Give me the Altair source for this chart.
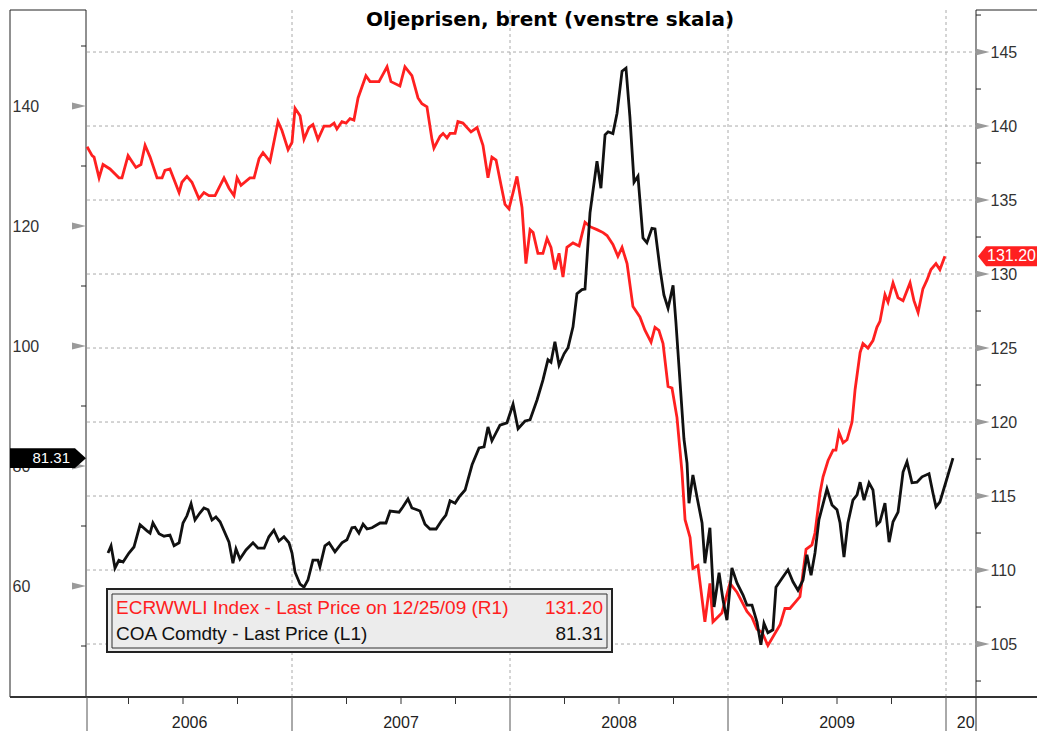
import altair as alt
import pandas as pd

TITLE = "Oljeprisen, brent (venstre skala)"

# ECRWWLI Index (right scale), decimal years
ecri_t = [
    2006.060, 2006.083, 2006.092, 2006.115, 2006.133, 2006.165, 2006.206, 2006.220, 2006.248, 2006.284,
    2006.307, 2006.326, 2006.349, 2006.381, 2006.404, 2006.417, 2006.440, 2006.482, 2006.495, 2006.518,
    2006.541, 2006.573, 2006.596, 2006.619, 2006.647, 2006.688, 2006.711, 2006.734, 2006.748, 2006.766,
    2006.807, 2006.826, 2006.849, 2006.867, 2006.899, 2006.936, 2006.954, 2006.982, 2007.000, 2007.014,
    2007.037, 2007.055, 2007.078, 2007.096, 2007.119, 2007.147, 2007.174, 2007.193, 2007.206, 2007.229,
    2007.248, 2007.266, 2007.284, 2007.303, 2007.339, 2007.358, 2007.399, 2007.436, 2007.454, 2007.495,
    2007.518, 2007.550, 2007.578, 2007.596, 2007.619, 2007.642, 2007.651, 2007.679, 2007.693, 2007.711,
    2007.725, 2007.748, 2007.761, 2007.784, 2007.821, 2007.849, 2007.876, 2007.899, 2007.917, 2007.936,
    2007.959, 2007.977, 2007.995, 2008.014, 2008.032, 2008.055, 2008.073, 2008.092, 2008.106, 2008.128,
    2008.151, 2008.170, 2008.188, 2008.206, 2008.225, 2008.243, 2008.261, 2008.289, 2008.317, 2008.344,
    2008.367, 2008.399, 2008.427, 2008.445, 2008.472, 2008.495, 2008.514, 2008.537, 2008.564, 2008.596,
    2008.619, 2008.647, 2008.665, 2008.683, 2008.702, 2008.725, 2008.743, 2008.766, 2008.789, 2008.803,
    2008.826, 2008.839, 2008.862, 2008.894, 2008.917, 2008.931, 2008.972, 2009.009, 2009.041, 2009.087,
    2009.110, 2009.133, 2009.156, 2009.183, 2009.239, 2009.261, 2009.284, 2009.307, 2009.330, 2009.358,
    2009.385, 2009.399, 2009.422, 2009.436, 2009.459, 2009.482, 2009.495, 2009.509, 2009.528, 2009.546,
    2009.569, 2009.583, 2009.606, 2009.619, 2009.642, 2009.665, 2009.683, 2009.697, 2009.720, 2009.734,
    2009.757, 2009.780, 2009.803, 2009.835, 2009.853, 2009.872, 2009.894, 2009.913, 2009.931, 2009.954,
    2009.972, 2009.995,
]
ecri_v = [
    138.6, 138.0, 137.9, 136.5, 137.4, 137.1, 136.5, 136.5, 138.0, 137.2,
    137.4, 138.7, 137.9, 136.5, 136.5, 137.0, 137.1, 135.5, 136.2, 136.6,
    136.2, 135.1, 135.5, 135.3, 135.3, 136.5, 135.8, 135.3, 136.5, 136.0,
    136.5, 136.5, 137.8, 138.2, 137.6, 140.3, 139.7, 138.4, 138.9, 141.2,
    140.7, 139.1, 139.9, 140.1, 139.1, 140.0, 140.0, 140.2, 139.8, 140.3,
    140.2, 140.5, 140.4, 141.9, 143.4, 143.0, 143.0, 144.0, 143.0, 142.7,
    144.0, 143.4, 141.9, 141.5, 141.3, 139.1, 138.5, 139.3, 139.5, 139.2,
    139.5, 139.5, 140.3, 140.2, 139.6, 139.9, 138.7, 136.5, 137.9, 137.7,
    136.0, 134.7, 134.4, 135.5, 136.6, 134.5, 130.7, 133.0, 132.8, 131.4,
    131.4, 132.4, 131.8, 130.3, 131.4, 129.8, 131.8, 132.1, 131.9, 133.5,
    133.2, 133.0, 132.8, 132.6, 132.0, 131.2, 131.8, 130.7, 127.8, 127.1,
    126.2, 125.4, 126.4, 126.2, 125.3, 122.4, 122.3, 120.3, 116.6, 113.4,
    112.2, 110.1, 110.3, 106.5, 109.1, 106.5, 107.1, 109.1, 108.5, 107.2,
    106.8, 106.0, 105.8, 104.9, 106.3, 107.4, 107.4, 107.8, 108.2, 111.4,
    111.7, 112.5, 115.2, 116.3, 117.4, 118.1, 118.1, 119.3, 118.6, 118.8,
    120.0, 122.2, 124.7, 125.3, 125.0, 125.5, 126.4, 126.8, 128.6, 128.1,
    129.4, 128.4, 128.2, 129.4, 128.2, 127.4, 129.0, 129.6, 130.3, 130.7,
    130.3, 131.20,
]

# COA Comdty (Brent, left scale), decimal years
coa_t = [
    2006.156, 2006.170, 2006.188, 2006.206, 2006.225, 2006.252, 2006.275, 2006.303, 2006.335, 2006.349,
    2006.362, 2006.390, 2006.413, 2006.440, 2006.459, 2006.482, 2006.500, 2006.518, 2006.537, 2006.555,
    2006.578, 2006.596, 2006.615, 2006.633, 2006.651, 2006.670, 2006.711, 2006.729, 2006.743, 2006.761,
    2006.789, 2006.821, 2006.844, 2006.872, 2006.894, 2006.917, 2006.940, 2006.963, 2006.986, 2007.000,
    2007.014, 2007.037, 2007.055, 2007.073, 2007.096, 2007.119, 2007.128, 2007.151, 2007.170, 2007.197,
    2007.229, 2007.252, 2007.275, 2007.289, 2007.307, 2007.326, 2007.344, 2007.367, 2007.404, 2007.431,
    2007.450, 2007.491, 2007.509, 2007.532, 2007.550, 2007.573, 2007.587, 2007.610, 2007.633, 2007.661,
    2007.688, 2007.706, 2007.725, 2007.748, 2007.766, 2007.794, 2007.826, 2007.858, 2007.881, 2007.899,
    2007.917, 2007.954, 2007.986, 2008.014, 2008.037, 2008.069, 2008.092, 2008.124, 2008.151, 2008.174,
    2008.188, 2008.206, 2008.225, 2008.248, 2008.266, 2008.289, 2008.307, 2008.330, 2008.344, 2008.367,
    2008.399, 2008.417, 2008.436, 2008.450, 2008.472, 2008.491, 2008.514, 2008.532, 2008.550, 2008.569,
    2008.587, 2008.610, 2008.628, 2008.651, 2008.665, 2008.688, 2008.706, 2008.725, 2008.748, 2008.761,
    2008.780, 2008.798, 2008.812, 2008.821, 2008.839, 2008.858, 2008.881, 2008.894, 2008.917, 2008.936,
    2008.959, 2008.977, 2008.995, 2009.018, 2009.041, 2009.069, 2009.087, 2009.110, 2009.133, 2009.151,
    2009.165, 2009.183, 2009.206, 2009.220, 2009.248, 2009.275, 2009.298, 2009.321, 2009.344, 2009.362,
    2009.381, 2009.399, 2009.417, 2009.454, 2009.477, 2009.500, 2009.514, 2009.532, 2009.550, 2009.573,
    2009.592, 2009.606, 2009.624, 2009.647, 2009.665, 2009.683, 2009.697, 2009.720, 2009.739, 2009.757,
    2009.780, 2009.803, 2009.821, 2009.844, 2009.867, 2009.890, 2009.922, 2009.940, 2009.954, 2009.972,
    2010.005, 2010.032,
]
coa_v = [
    65.5, 66.7, 63.0, 64.3, 64.0, 65.5, 66.5, 70.2, 69.2, 68.8,
    70.5, 68.7, 68.3, 68.5, 66.7, 67.2, 70.5, 71.7, 73.7, 71.0,
    72.2, 73.0, 72.7, 71.0, 71.5, 70.7, 67.3, 63.8, 66.2, 64.5,
    66.0, 67.2, 66.3, 66.3, 68.2, 69.3, 67.5, 68.2, 67.2, 65.5,
    62.3, 60.3, 59.8, 61.0, 64.3, 64.3, 63.2, 66.7, 67.2, 65.7,
    67.2, 67.7, 69.7, 69.8, 68.8, 70.3, 69.5, 69.7, 70.5, 70.5,
    72.5, 72.3, 73.2, 74.5, 73.0, 72.7, 72.5, 70.3, 69.5, 69.5,
    71.0, 71.8, 74.2, 73.8, 74.8, 76.0, 80.2, 83.0, 83.2, 86.5,
    84.2, 86.8, 87.2, 90.3, 86.2, 87.5, 87.7, 91.0, 94.3, 97.7,
    97.3, 100.7, 96.8, 98.7, 99.7, 103.2, 108.7, 109.4, 109.5, 122.2,
    130.8, 126.3, 135.2, 135.7, 135.4, 138.8, 145.8, 146.3, 138.2, 127.3,
    128.3, 118.0, 117.2, 119.6, 119.5, 112.9, 108.5, 106.3, 110.1, 104.0,
    94.0, 84.5, 80.5, 73.8, 78.5, 74.8, 70.5, 63.8, 69.7, 56.5,
    62.2, 57.7, 54.3, 63.0, 60.5, 58.5, 56.8, 56.8, 54.0, 50.2,
    53.8, 52.2, 52.7, 59.8, 61.3, 62.7, 60.7, 59.3, 61.0, 65.2,
    61.8, 65.5, 71.0, 76.2, 73.5, 72.7, 70.5, 64.8, 70.5, 74.3,
    75.2, 77.3, 74.3, 77.2, 76.0, 70.2, 70.7, 73.8, 67.3, 70.7,
    72.3, 79.0, 80.7, 77.2, 77.3, 78.2, 78.7, 75.5, 73.2, 74.0,
    78.0, 81.31,
]

left_major = [60, 80, 100, 120, 140]
left_minor = [50, 70, 90, 110, 130, 150]
right_major = [105, 110, 115, 120, 125, 130, 135, 140, 145]
right_minor = [102.5, 107.5, 112.5, 117.5, 122.5, 127.5, 132.5, 137.5, 142.5, 147.5]
year_bounds = [2007, 2008, 2009, 2010]
quarters = [2006.25, 2006.5, 2006.75, 2007.25, 2007.5, 2007.75,
            2008.25, 2008.5, 2008.75, 2009.25, 2009.5, 2009.75]
year_text = ["2006", "2007", "2008", "2009", "20"]
year_pos = [2006.53, 2007.5, 2008.5, 2009.5, 2010.09]
legend_names = ["ECRWWLI Index - Last Price on 12/25/09 (R1)", "COA Comdty - Last Price (L1)"]
legend_values = ["131.20", "81.31"]

RED = "#ff2020"
BLK = "#111111"
FONT = "Liberation Sans"
W, H = 890, 687

xs = alt.Scale(domain=[2006.0596, 2010.1422], nice=False, zero=False)
ls = alt.Scale(domain=[41.5, 156.0], nice=False, zero=False)
rs = alt.Scale(domain=[101.42, 147.84], nice=False, zero=False)

ecri = pd.DataFrame({"t": ecri_t, "v": ecri_v})
coa = pd.DataFrame({"t": coa_t, "v": coa_v})
one = pd.DataFrame({"k": [0]})

X = alt.X("t:Q", scale=xs, axis=None)
YL = alt.Y("v:Q", scale=ls, axis=None)
YR = alt.Y("v:Q", scale=rs, axis=None)

TRI = "M-1,-0.5L1,0L-1,0.5Z"
LTAG = "M-1,-0.26L0.71,-0.26L1,0L0.71,0.26L-1,0.26Z"
RTAG = "M-1,0L-0.8,-0.25L1,-0.25L1,0.25L-0.8,0.25Z"

layers = []

# panels
layers.append(alt.Chart(one).mark_rect(fillOpacity=0, stroke="#222", strokeWidth=1).encode(
    x=alt.value(-77), x2=alt.value(-1), y=alt.value(0), y2=alt.value(H)))
layers.append(alt.Chart(one).mark_rect(fillOpacity=0, stroke="#222", strokeWidth=1).encode(
    x=alt.value(889), x2=alt.value(990), y=alt.value(0), y2=alt.value(H)))

# grid
layers.append(alt.Chart(pd.DataFrame({"v": right_major})).mark_rule(
    color="#aaaaaa", strokeDash=[3, 3], strokeWidth=1).encode(
    y=YR, x=alt.value(0), x2=alt.value(889)))
layers.append(alt.Chart(pd.DataFrame({"t": year_bounds})).mark_rule(
    color="#aaaaaa", strokeDash=[3, 3], strokeWidth=1).encode(
    x=X, y=alt.value(0), y2=alt.value(H)))

# series
layers.append(alt.Chart(ecri).mark_line(color=RED, strokeWidth=2.8).encode(
    x=X,
    y=alt.Y("v:Q", scale=rs, axis=alt.Axis(
        orient="right", values=right_major, ticks=False, tickSize=0, domain=False, grid=False,
        labelAlign="left", labelBaseline="middle", labelPadding=13, labelFont=FONT,
        labelFontSize=16, labelColor="#333", labelOverlap=False, title=None))))
layers.append(alt.Chart(coa).mark_line(color=BLK, strokeWidth=2.8).encode(
    x=X,
    y=alt.Y("v:Q", scale=ls, axis=alt.Axis(
        orient="left", values=left_major, ticks=False, tickSize=0, domain=False, grid=False,
        labelAlign="left", labelBaseline="middle", labelPadding=75, labelFont=FONT,
        labelFontSize=16, labelColor="#333", labelOverlap=False, title=None))))

# axis ticks
layers.append(alt.Chart(pd.DataFrame({"v": left_major})).mark_point(
    shape=TRI, size=196, filled=True, color="#9a9a9a", opacity=1, strokeWidth=0).encode(
    y=YL, x=alt.value(-8)))
layers.append(alt.Chart(pd.DataFrame({"v": left_minor})).mark_rule(color="#222", strokeWidth=1).encode(
    y=YL, x=alt.value(-6), x2=alt.value(-1)))
layers.append(alt.Chart(pd.DataFrame({"v": right_major})).mark_point(
    shape=TRI, size=169, filled=True, color="#9a9a9a", opacity=1, strokeWidth=0).encode(
    y=YR, x=alt.value(896)))
layers.append(alt.Chart(pd.DataFrame({"v": right_minor})).mark_rule(color="#222", strokeWidth=1).encode(
    y=YR, x=alt.value(889), x2=alt.value(894)))

# bottom time panel
layers.append(alt.Chart(one).mark_rule(color="#333", strokeWidth=2).encode(
    x=alt.value(-77), x2=alt.value(990), y=alt.value(H)))
layers.append(alt.Chart(pd.DataFrame({"t": year_bounds})).mark_rule(color="#555", strokeWidth=1).encode(
    x=X, y=alt.value(H), y2=alt.value(H + 50)))
layers.append(alt.Chart(one).mark_rule(color="#555", strokeWidth=1).encode(
    x=alt.value(0), y=alt.value(H), y2=alt.value(H + 50)))
layers.append(alt.Chart(one).mark_rule(color="#222", strokeWidth=1).encode(
    x=alt.value(889), y=alt.value(H), y2=alt.value(H + 50)))
layers.append(alt.Chart(pd.DataFrame({"t": quarters})).mark_rule(color="#333", strokeWidth=1).encode(
    x=X, y=alt.value(H), y2=alt.value(H + 7)))
layers.append(alt.Chart(pd.DataFrame({"t": year_pos, "lab": year_text})).mark_text(
    font=FONT, fontSize=16, color="#222", align="center", baseline="middle").encode(
    x=X, y=alt.value(H + 26), text="lab:N"))

# title
layers.append(alt.Chart(one).mark_text(
    font="DejaVu Sans", fontWeight="bold", fontSize=20, color="#000",
    align="center", baseline="middle").encode(
    x=alt.value(463), y=alt.value(10), text=alt.value(TITLE)))

# legend box
layers.append(alt.Chart(one).mark_rect(fill="#ececec", stroke="#222", strokeWidth=2).encode(
    x=alt.value(20), x2=alt.value(525), y=alt.value(579), y2=alt.value(642)))
layers.append(alt.Chart(one).mark_rect(fillOpacity=0, stroke="#333", strokeWidth=1).encode(
    x=alt.value(25), x2=alt.value(520), y=alt.value(584), y2=alt.value(638)))
for i, col in enumerate([RED, BLK]):
    layers.append(alt.Chart(one).mark_text(
        font=FONT, fontSize=19, color=col, align="left", baseline="middle").encode(
        x=alt.value(29), y=alt.value(598 + 26 * i), text=alt.value(legend_names[i])))
    layers.append(alt.Chart(one).mark_text(
        font=FONT, fontSize=19, color=col, align="right", baseline="middle").encode(
        x=alt.value(516), y=alt.value(598 + 26 * i), text=alt.value(legend_values[i])))

# last-value tags
last_coa = pd.DataFrame({"v": [coa_v[-1]]})
last_ecri = pd.DataFrame({"v": [ecri_v[-1]]})
layers.append(alt.Chart(last_coa).mark_point(
    shape=LTAG, size=5776, filled=True, color="#000", opacity=1, strokeWidth=0).encode(
    y=YL, x=alt.value(-39)))
layers.append(alt.Chart(last_coa).mark_text(
    font=FONT, fontSize=15, color="white", align="right", baseline="middle").encode(
    y=YL, x=alt.value(-17), text=alt.Text("v:Q", format=".2f")))
layers.append(alt.Chart(last_ecri).mark_point(
    shape=RTAG, size=6400, filled=True, color=RED, opacity=1, strokeWidth=0).encode(
    y=YR, x=alt.value(931)))
layers.append(alt.Chart(last_ecri).mark_text(
    font=FONT, fontSize=16, color="white", align="left", baseline="middle").encode(
    y=YR, x=alt.value(900), text=alt.Text("v:Q", format=".2f")))

chart = alt.layer(*layers).resolve_scale(y="independent").properties(
    width=W, height=H,
    padding={"left": 79, "top": 2, "right": 60, "bottom": 34},
    autosize=alt.AutoSizeParams(type="none"),
    background="white",
).configure_view(stroke=None)

chart.save("out.html", embed_options={"renderer": "svg", "actions": False})
